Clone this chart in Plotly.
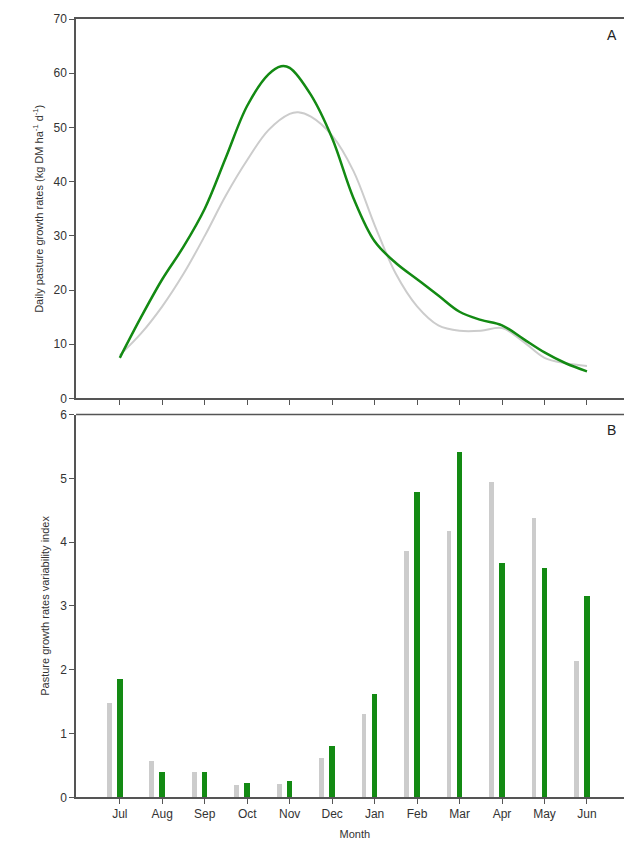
import plotly.graph_objects as go

months = ["Jul","Aug","Sep","Oct","Nov","Dec","Jan","Feb","Mar","Apr","May","Jun"]
# smooth curve sample positions (month index) and values
green_x = [0,0.5,1,1.5,2,2.5,3,3.5,3.8,4,4.5,5,5.5,6,6.5,7,7.5,8,8.5,9,9.5,10,10.5,11]
green_y = [7.5,15,22,28,35,44.5,54,59.8,61.3,61,56,48,37,29,25,22,19,16,14.5,13.5,11,8.5,6.5,5]
gray_x = [0,0.5,1,1.5,2,2.5,3,3.5,4,4.2,4.5,5,5.5,6,6.5,7,7.5,8,8.5,9,9.5,10,10.5,11]
gray_y = [8,12,17,23,30,37.5,44,49.5,52.5,52.8,52,48.5,42,32,23,17,13.5,12.5,12.5,13,10.5,7.5,6.5,6]
gray_index = [1.48,0.58,0.40,0.20,0.22,0.63,1.32,3.87,4.18,4.95,4.38,2.15]
green_index = [1.86,0.41,0.41,0.23,0.26,0.81,1.62,4.80,5.42,3.68,3.60,3.16]

GREEN = "#138a13"
GRAY = "#cccccc"
idx = list(range(len(months)))

fig = go.Figure()
fig.add_trace(go.Scatter(x=gray_x, y=gray_y, mode="lines", line=dict(color=GRAY, width=2, shape="spline"),
                         xaxis="x", yaxis="y", showlegend=False))
fig.add_trace(go.Scatter(x=green_x, y=green_y, mode="lines", line=dict(color=GREEN, width=2.5, shape="spline"),
                         xaxis="x", yaxis="y", showlegend=False))
fig.add_trace(go.Bar(x=idx, y=gray_index, width=0.11, offset=-0.3, marker=dict(color=GRAY, line=dict(width=0)),
                     xaxis="x2", yaxis="y2", showlegend=False))
fig.add_trace(go.Bar(x=idx, y=green_index, width=0.13, offset=-0.065, marker=dict(color=GREEN, line=dict(width=0)),
                     xaxis="x2", yaxis="y2", showlegend=False))

font = dict(family="Liberation Sans, Arial", size=12, color="#333")
axcommon = dict(showgrid=False, zeroline=False, showline=True, linecolor="#555", linewidth=1.5,
                ticks="outside", ticklen=5, tickcolor="#555", tickfont=font, automargin=False)
xr = [-1.03, 12.1]
XD = [0.1077, 0.990]
fig.update_layout(
    width=632, height=850, margin=dict(l=0, r=0, t=0, b=0),
    paper_bgcolor="white", plot_bgcolor="white", bargap=0,
    xaxis=dict(domain=XD, range=xr, anchor="y", tickvals=idx, showticklabels=False,
               mirror=True, **axcommon),
    yaxis=dict(domain=[0.5406, 0.987], range=[0, 70], dtick=10, anchor="x", mirror=False,
               title=dict(text="Daily pasture growth rates (kg DM ha<sup>-1</sup> d<sup>-1</sup>)",
                          font=dict(family="Liberation Sans, Arial", size=11, color="#333"), standoff=8),
               **axcommon),
    xaxis2=dict(domain=XD, range=xr, anchor="y2", tickvals=idx, ticktext=months,
                title=dict(text="Month", font=dict(family="Liberation Sans, Arial", size=11, color="#333"), standoff=10),
                **axcommon),
    yaxis2=dict(domain=[0.0714, 0.5217], range=[0, 6], dtick=1, anchor="x2",
                title=dict(text="Pasture growth rates variability index",
                           font=dict(family="Liberation Sans, Arial", size=11, color="#333"), standoff=8),
                **axcommon),
    shapes=[
        dict(type="line", xref="paper", yref="paper", x0=XD[0], x1=XD[1], y0=0.5217, y1=0.5217, line=dict(color="#555", width=1.5)),
        dict(type="line", xref="paper", yref="paper", x0=XD[1], x1=XD[1], y0=0.5406, y1=0.987, line=dict(color="#ddd", width=1)),
        dict(type="line", xref="paper", yref="paper", x0=XD[1], x1=XD[1], y0=0.0714, y1=0.5217, line=dict(color="#ddd", width=1)),
    ],
    annotations=[
        dict(text="A", xref="paper", yref="paper", x=0.955, y=0.98, showarrow=False, xanchor="center", yanchor="top",
             font=dict(family="Liberation Sans, Arial", size=14, color="#222")),
        dict(text="B", xref="paper", yref="paper", x=0.955, y=0.515, showarrow=False, xanchor="center", yanchor="top",
             font=dict(family="Liberation Sans, Arial", size=14, color="#222")),
    ],
)
fig.write_html("out.html")
